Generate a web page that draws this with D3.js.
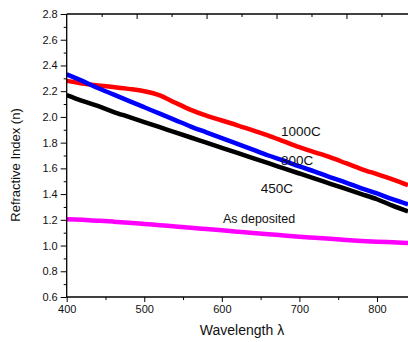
<!DOCTYPE html>
<html>
<head>
<meta charset="utf-8">
<script src="https://cdn.jsdelivr.net/npm/d3@7"></script>
<style>
  body { margin: 0; background: #fff; }
  svg { display: block; font-family: "Liberation Sans", Arial, sans-serif; }
</style>
</head>
<body>
<div id="canvas"></div>
<script>
// wavelength grid (nm)
const wl = [400, 420, 440, 460, 480, 500, 520, 540, 560, 580, 600, 620, 640, 660, 680, 700, 720, 740, 760, 780, 800, 820, 840];

// refractive index per anneal temperature
const n1000 = [2.28, 2.26, 2.245, 2.232, 2.218, 2.2, 2.168, 2.11, 2.055, 2.01, 1.972, 1.935, 1.895, 1.855, 1.81, 1.765, 1.725, 1.685, 1.64, 1.595, 1.555, 1.515, 1.47];
const n800 = [2.33, 2.28, 2.225, 2.175, 2.125, 2.075, 2.025, 1.975, 1.925, 1.88, 1.835, 1.79, 1.745, 1.70, 1.66, 1.615, 1.575, 1.53, 1.49, 1.445, 1.405, 1.36, 1.32];
const n450 = [2.17, 2.125, 2.085, 2.04, 2.0, 1.96, 1.92, 1.88, 1.84, 1.80, 1.76, 1.72, 1.68, 1.64, 1.60, 1.56, 1.52, 1.48, 1.44, 1.40, 1.36, 1.31, 1.265];
const nDep = [1.205, 1.20, 1.193, 1.186, 1.178, 1.168, 1.158, 1.148, 1.138, 1.128, 1.118, 1.108, 1.098, 1.088, 1.078, 1.068, 1.06, 1.052, 1.044, 1.036, 1.03, 1.025, 1.02];

const series = [
  { name: "1000C", values: n1000, color: "#ff0000" },
  { name: "800C", values: n800, color: "#0000ff" },
  { name: "450C", values: n450, color: "#000000" },
  { name: "As deposited", values: nDep, color: "#ff00ff" }
];

// curve labels: [text, wavelength, index]
const labels = [
  ["1000C", 702, 1.88],
  ["800C", 697, 1.657],
  ["450C", 671, 1.44],
  ["As deposited", 648, 1.198]
];

const yTicks = [0.6, 0.8, 1.0, 1.2, 1.4, 1.6, 1.8, 2.0, 2.2, 2.4, 2.6, 2.8];
const xTicks = [400, 500, 600, 700, 800];

const width = 408;
const height = 342;
const margin = { top: 14, left: 66.7, bottom: 45, right: 0 };
const iwidth = width - margin.left - margin.right;
const iheight = height - margin.top - margin.bottom;

const svg = d3.select("#canvas").append("svg")
  .attr("width", width)
  .attr("height", height);

svg.append("defs").append("clipPath").attr("id", "clip")
  .append("rect").attr("width", iwidth).attr("height", iheight);

const graph = svg.append("g").attr("transform", `translate(${margin.left},${margin.top})`);

const x = d3.scaleLinear().domain([400, 840]).range([0, iwidth]);
const y = d3.scaleLinear().domain([0.6, 2.8]).range([iheight, 0]);
// unlabelled top axis has its own spacing
const xTop = d3.scaleLinear().domain([0, 4.88]).range([0, iwidth]);

const line = d3.line()
  .x((d, i) => x(wl[i]))
  .y(d => y(d))
  .curve(d3.curveMonotoneX);

graph.append("g").attr("clip-path", "url(#clip)")
  .selectAll("path").data(series).enter().append("path")
  .attr("fill", "none")
  .attr("stroke", d => d.color)
  .attr("stroke-width", 4.5)
  .attr("d", d => line(d.values));

graph.selectAll("text.lbl").data(labels).enter().append("text")
  .attr("class", "lbl")
  .attr("x", d => x(d[1]))
  .attr("y", d => y(d[2]))
  .attr("text-anchor", "middle")
  .attr("dominant-baseline", "middle")
  .attr("font-size", d => d[0] === "As deposited" ? 12.5 : 13.5)
  .attr("fill", "#111")
  .text(d => d[0]);

// axes
const axisColor = "#000";
function style(g) {
  g.select(".domain").remove();
  g.selectAll("line").attr("stroke", axisColor);
  g.selectAll("text").attr("fill", "#111").attr("font-size", 11);
}

const yMinor = d3.range(0.7, 2.8, 0.2);
graph.append("g")
  .call(d3.axisLeft(y).tickValues(yTicks).tickFormat(d3.format(".1f")).tickSize(6).tickPadding(3))
  .call(style);
graph.append("g")
  .call(d3.axisLeft(y).tickValues(yMinor).tickFormat("").tickSize(3))
  .call(style);

const xMinor = [450, 550, 650, 750];
graph.append("g")
  .attr("transform", `translate(0,${iheight})`)
  .call(d3.axisBottom(x).tickValues(xTicks).tickFormat(d3.format("d")).tickSize(5).tickPadding(3))
  .call(style);
graph.append("g")
  .attr("transform", `translate(0,${iheight})`)
  .call(d3.axisBottom(x).tickValues(xMinor).tickFormat("").tickSize(3))
  .call(style);

graph.append("g")
  .call(d3.axisBottom(xTop).tickValues([1, 2, 3, 4]).tickFormat("").tickSize(5))
  .call(style);
graph.append("g")
  .call(d3.axisBottom(xTop).tickValues([0.5, 1.5, 2.5, 3.5, 4.5]).tickFormat("").tickSize(3))
  .call(style);

// frame lines
graph.append("line").attr("x1", 0).attr("x2", 0).attr("y1", 0).attr("y2", iheight)
  .attr("stroke", axisColor).attr("stroke-width", 1.3);
graph.append("line").attr("x1", 0).attr("x2", iwidth).attr("y1", iheight).attr("y2", iheight)
  .attr("stroke", axisColor).attr("stroke-width", 1.3);
graph.append("line").attr("x1", 0).attr("x2", iwidth).attr("y1", 0).attr("y2", 0)
  .attr("stroke", axisColor).attr("stroke-width", 1.3);

// titles
svg.append("text")
  .attr("x", 242)
  .attr("y", 335)
  .attr("text-anchor", "middle")
  .attr("font-size", 14)
  .attr("fill", "#111")
  .text("Wavelength λ");

svg.append("text")
  .attr("transform", "translate(20,165) rotate(-90)")
  .attr("text-anchor", "middle")
  .attr("font-size", 13)
  .attr("fill", "#111")
  .text("Refractive Index (n)");
</script>
</body>
</html>
